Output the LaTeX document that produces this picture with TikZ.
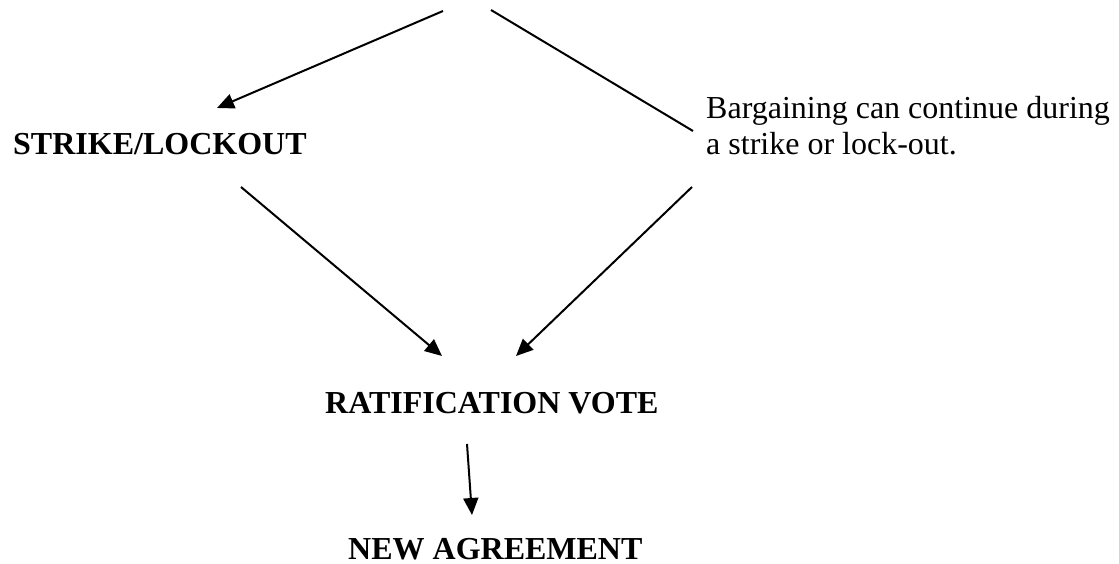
\documentclass[tikz,border=0pt]{standalone}
\usepackage{fontspec}
\setmainfont{Liberation Serif}
\usetikzlibrary{arrows.meta}
\begin{document}
\begin{tikzpicture}[x=1pt,y=1pt,
  lbl/.style={inner sep=0pt, font=\fontsize{32}{36}\selectfont},
  bold/.style={lbl, font=\fontsize{32}{36}\selectfont\bfseries},
  conn/.style={line width=2pt, line cap=butt},
  arr/.style={conn, -{Triangle[length=17pt,width=15pt]}}]
\useasboundingbox (0,0) rectangle (1119,564);
% text nodes
\node[bold, anchor=base west] (strike) at (13,409) {STRIKE/LOCKOUT};
\node[lbl, anchor=north west, align=left] (bargain) at (706,468) {Bargaining can continue during\\a strike or lock-out.};
\node[bold, anchor=base west] (rat) at (325,150) {RATIFICATION VOTE};
\node[bold, anchor=base west] (new) at (348,4) {NEW AGREEMENT};
% connector end points
\coordinate (top1) at (443,553);
\coordinate (top2) at (491,554);
\coordinate (strikeIn) at (217,456);
\coordinate (bargainIn) at (693,433);
\coordinate (strikeOut) at (241,377);
\coordinate (bargainOut) at (692,377);
\coordinate (ratInL) at (442,208);
\coordinate (ratInR) at (516,208);
\coordinate (ratOut) at (467,120);
\coordinate (newIn) at (472,49);
% connectors
\draw[arr] (top1) -- (strikeIn);
\draw[conn] (top2) -- (bargainIn);
\draw[arr] (strikeOut) -- (ratInL);
\draw[arr] (bargainOut) -- (ratInR);
\draw[arr] (ratOut) -- (newIn);
\end{tikzpicture}
\end{document}
